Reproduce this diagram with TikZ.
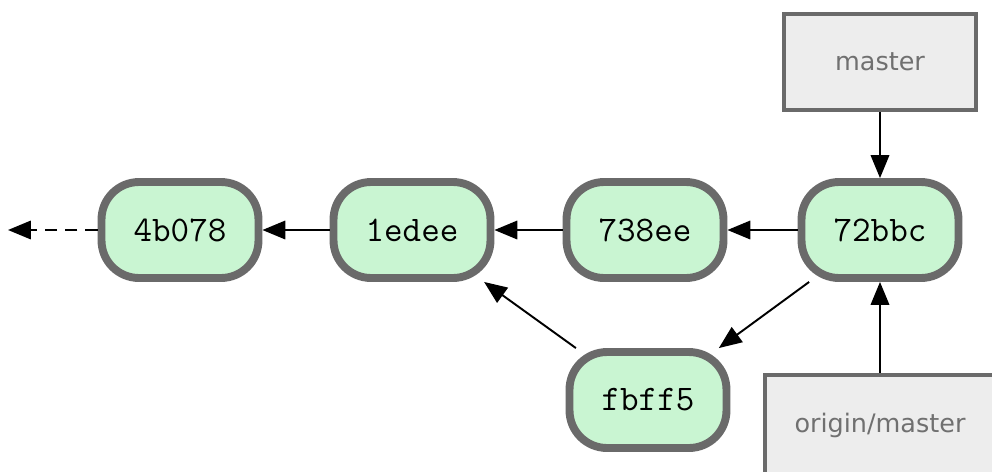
\documentclass[tikz,border=0pt]{standalone}
\usepackage{fontspec}
\setmainfont{DejaVu Sans}
\usetikzlibrary{arrows.meta}
\definecolor{commitfill}{HTML}{C9F5D2}
\definecolor{rimgray}{HTML}{6A6A6A}
\definecolor{reffill}{HTML}{EDEDED}
\definecolor{reftext}{HTML}{707070}
\begin{document}
\begin{tikzpicture}[x=0.02cm, y=-0.02cm, >={Triangle[length=13pt,width=10.5pt]},
  commit/.style={draw=rimgray, line width=4.5pt, fill=commitfill, rounded corners=0.75cm,
    minimum width=3.14cm, minimum height=1.92cm, font=\ttfamily\fontsize{20.5}{22}\selectfont},
  branch/.style={draw=rimgray, line width=2.3pt, fill=reffill, text=reftext,
    minimum height=1.92cm, font=\fontsize{14.5}{17}\selectfont},
  link/.style={->, line width=1.1pt}]
  \useasboundingbox (0,0) rectangle (992,471);
  % commits
  \node[commit] (c4b078) at (180,230) {4b078};
  \node[commit] (c1edee) at (412,230) {1edee};
  \node[commit] (c738ee) at (645,230) {738ee};
  \node[commit] (c72bbc) at (880,230) {72bbc};
  \node[commit] (cfbff5) at (648,400) {fbff5};
  % branches
  \node[branch, minimum width=3.84cm] (master) at (880,62) {master};
  \node[branch, minimum width=4.6cm, minimum height=2cm] (origin) at (880,425) {origin/master};
  \coordinate (older) at (8,230);
  % history
  \draw[link] (c72bbc) -- (c738ee);
  \draw[link] (c738ee) -- (c1edee);
  \draw[link] (c1edee) -- (c4b078);
  \draw[link, dash pattern=on 7pt off 4.5pt] (c4b078) -- (older);
  \draw[link] (c72bbc) -- (cfbff5);
  \draw[link] (cfbff5) -- (c1edee);
  \draw[link] (master) -- (c72bbc);
  \draw[link] (origin) -- (c72bbc);
\end{tikzpicture}
\end{document}
